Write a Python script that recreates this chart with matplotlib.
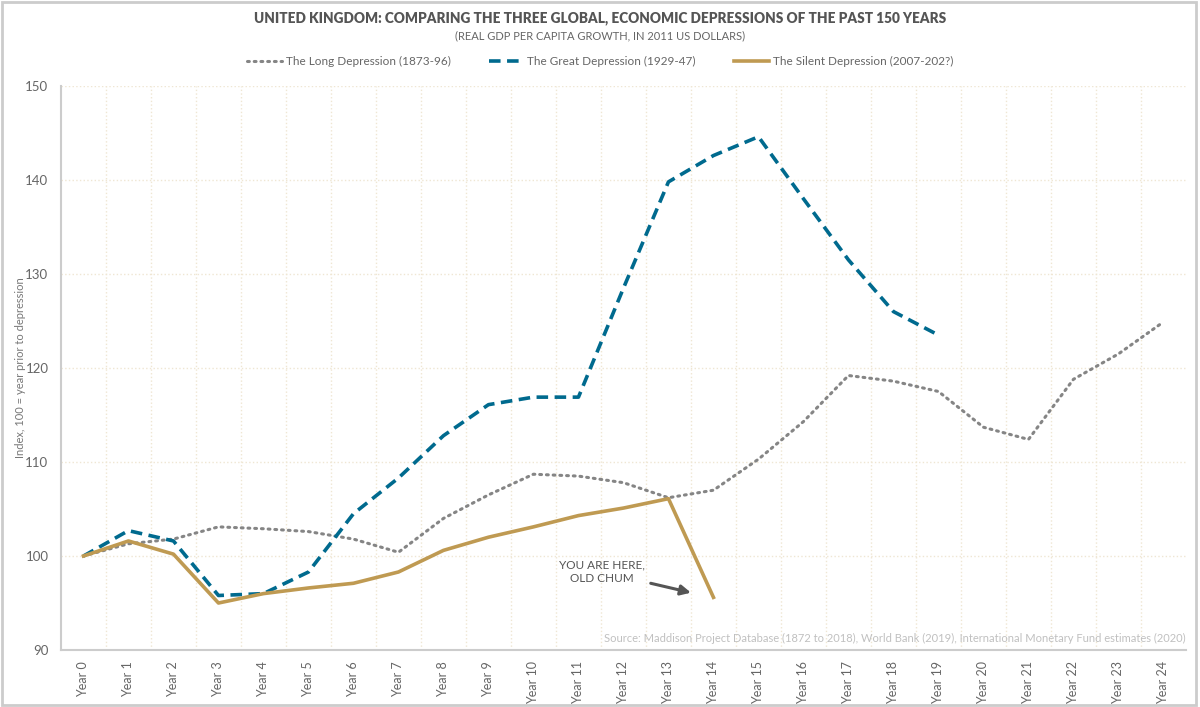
import matplotlib
matplotlib.use("Agg")
import matplotlib.pyplot as plt
from matplotlib.patches import Rectangle
from matplotlib.lines import Line2D

plt.rcParams['font.family'] = ['Lato', 'DejaVu Sans']

# Data (index, 100 = year prior to depression)
years = [f"Year {i}" for i in range(25)]
long_depression = [100, 101.3, 101.8, 103.1, 102.9, 102.6, 101.8, 100.4, 104.0, 106.5,
                   108.7, 108.5, 107.8, 106.2, 107.0, 110.3, 114.3, 119.2, 118.6, 117.5,
                   113.7, 112.4, 118.8, 121.5, 124.9]
great_depression = [100, 102.7, 101.6, 95.8, 96.0, 98.3, 104.5, 108.3, 112.8, 116.1,
                    116.9, 116.9, 128.5, 139.8, 142.6, 144.6, 138.0, 131.5, 126.0, 123.5]
silent_depression = [100, 101.6, 100.2, 95.0, 96.0, 96.6, 97.1, 98.3, 100.6, 102.0,
                     103.1, 104.3, 105.1, 106.1, 95.6]

GREY = '#858585'
BLUE = '#006a8e'
GOLD = '#bf9a52'
TEXT = '#555555'

fig = plt.figure(figsize=(12, 7.07), dpi=100)
ax = fig.add_axes([0.0508, 0.0806, 0.9375, 0.7978])

ax.plot(range(len(long_depression)), long_depression, color=GREY, lw=2.2,
        linestyle=(0, (0.6, 1.6)), dash_capstyle='round',
        label='The Long Depression (1873-96)')
ax.plot(range(len(great_depression)), great_depression, color=BLUE, lw=2.6,
        linestyle=(0, (3.2, 1.8)), label='The Great Depression (1929-47)')
ax.plot(range(len(silent_depression)), silent_depression, color=GOLD, lw=2.6,
        label='The Silent Depression (2007-202?)')

ax.set_xlim(-0.5, 24.5)
ax.set_ylim(90, 150)
ax.set_xticks(range(25))
ax.set_xticklabels(years, rotation=90, fontsize=9, color='#666666')
ax.set_yticks(range(90, 151, 10))
ax.tick_params(axis='y', labelsize=9.5, colors='#666666', length=0, pad=9)
ax.tick_params(axis='x', length=0, pad=8)

# grid at category boundaries
ax.set_xticks([i + 0.5 for i in range(24)], minor=True)
ax.grid(True, which='minor', axis='x', color='#efe6d3', linestyle=':', lw=1)
ax.grid(True, which='major', axis='y', color='#efe6d3', linestyle=':', lw=1)
ax.tick_params(axis='x', which='minor', length=0)
ax.set_axisbelow(True)

for s in ['top', 'right']:
    ax.spines[s].set_visible(False)
for s in ['left', 'bottom']:
    ax.spines[s].set_color('#cccccc')
    ax.spines[s].set_linewidth(1.5)

ax.set_ylabel('Index, 100 = year prior to depression', fontsize=8, color='#777777')
ax.yaxis.set_label_coords(-0.031, 0.5)

# titles
fig.text(0.5, 0.974, 'UNITED KINGDOM: COMPARING THE THREE GLOBAL, ECONOMIC DEPRESSIONS OF THE PAST 150 YEARS',
         ha='center', va='center', fontsize=9.8, fontweight='heavy', color=TEXT)
fig.text(0.5, 0.950, '(REAL GDP PER CAPITA GROWTH, IN 2011 US DOLLARS)',
         ha='center', va='center', fontsize=8, color='#666666')

handles = [
    Line2D([], [], color=GREY, lw=2.2, linestyle=(0, (0.6, 1.6)), dash_capstyle='round'),
    Line2D([], [], color=BLUE, lw=2.6, linestyle=(0, (3.2, 1.8))),
    Line2D([], [], color=GOLD, lw=2.6),
]
fig.legend(handles, [l.get_label() for l in ax.get_lines()], loc='center',
           bbox_to_anchor=(0.5, 0.913), ncol=3, frameon=False, fontsize=8.5,
           handlelength=3, handletextpad=0.3, columnspacing=3.2, labelcolor='#666666')

# source
ax.text(24.5, 90.6, 'Source: Maddison Project Database (1872 to 2018), World Bank (2019), '
        'International Monetary Fund estimates (2020)',
        ha='right', va='bottom', fontsize=8, color='#c0c0c0')

# annotation
ax.annotate('YOU ARE HERE,\nOLD CHUM', xy=(13.5, 96.1), xytext=(11.53, 98.3),
            ha='center', va='center', fontsize=8.5, color=TEXT, linespacing=1.3,
            arrowprops=dict(arrowstyle='-|>,head_length=0.7,head_width=0.35', color=TEXT,
                            lw=2.2, shrinkA=2, shrinkB=0))

# outer frame
fig.patches.append(Rectangle((0.002, 0.003), 0.995, 0.994, transform=fig.transFigure,
                             fill=False, edgecolor='#cccccc', lw=2))

fig.savefig('out.png', dpi=100)
